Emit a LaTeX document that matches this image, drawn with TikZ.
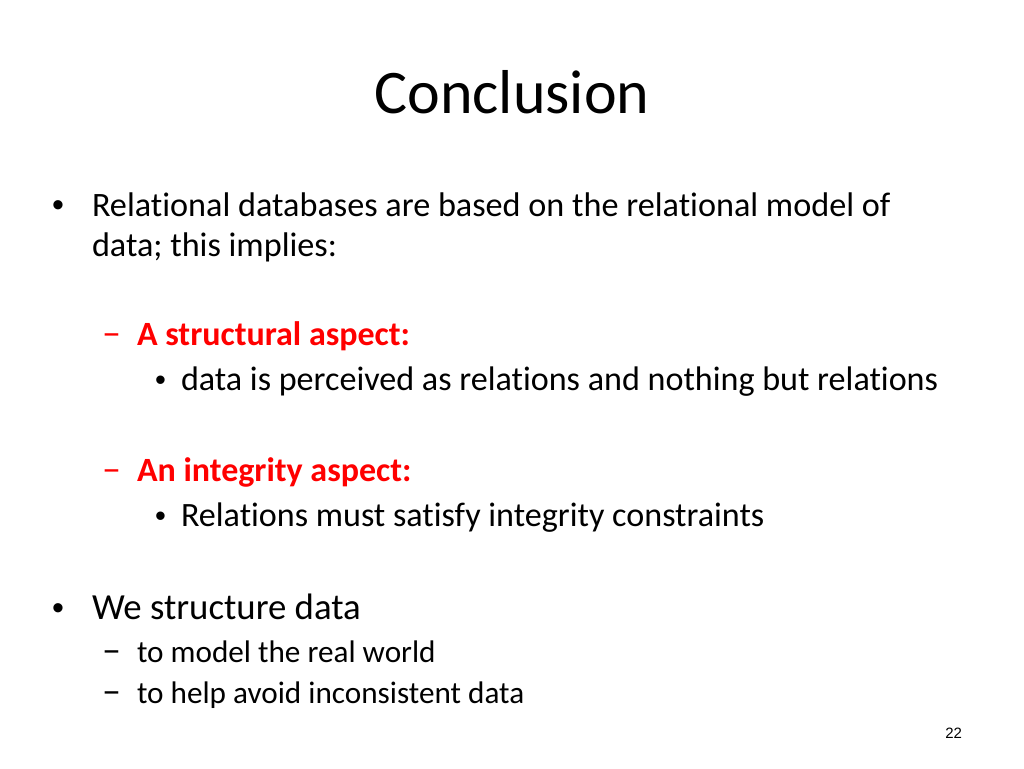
\documentclass[tikz,border=0pt]{standalone}
\usepackage{fontspec}
\setmainfont{Carlito}[Ligatures=NoCommon]
\newfontfamily\arialfont{Liberation Sans}
\usetikzlibrary{positioning}

\begin{document}
\begin{tikzpicture}[x=1pt, y=-1pt, inner sep=0pt, outer sep=0pt,
  title/.style = {anchor=base, font=\fontsize{62}{62}\selectfont},
  lvlone/.style = {anchor=base west, font=\fontsize{34.2}{40}\selectfont},
  lvlbig/.style = {anchor=base west, font=\fontsize{36.8}{44}\selectfont},
  lvlthree/.style = {anchor=base west, font=\fontsize{34.1}{40}\selectfont},
  lvlsub/.style = {anchor=base west, font=\fontsize{31.2}{38}\selectfont},
  head/.style = {anchor=base west, text=red, font=\fontsize{34}{40}\selectfont\bfseries},
  dot/.style = {anchor=base west, font=\arialfont\fontsize{34}{34}\selectfont},
  smalldot/.style = {anchor=base west, font=\arialfont\fontsize{31}{31}\selectfont},
  dashmark/.style = {anchor=base west, font=\fontsize{38}{38}\selectfont},
  pagenum/.style = {anchor=base east, font=\arialfont\fontsize{15}{15}\selectfont}]
\useasboundingbox (0,0) rectangle (1024,768);

% title
\node[title] (title) at (512,113) {Conclusion};

% first bullet
\node[dot] (b1) at (52,216) {•};
\node[lvlone] (rel) at (92,216) {Relational databases are based on the relational model of};
\node[lvlone] (rel2) at (92,256) {data; this implies:};

\node[dashmark, text=red] (d1) at (102,345) {–};
\node[head] (struct) at (137,345) {A structural aspect:};
\node[smalldot] (b2) at (155,390) {•};
\node[lvlthree] (perc) at (181,390) {data is perceived as relations and nothing but relations};

\node[dashmark, text=red] (d2) at (102,481) {–};
\node[head] (integ) at (137,481) {An integrity aspect:};
\node[smalldot] (b3) at (155,526) {•};
\node[lvlthree] (cons) at (181,526) {Relations must satisfy integrity constraints};

% second bullet
\node[dot] (b4) at (52,619) {•};
\node[lvlbig] (struc) at (92,619) {We structure data};
\node[dashmark] (d3) at (102,662) {–};
\node[lvlsub] (model) at (137,662) {to model the real world};
\node[dashmark] (d4) at (102,703) {–};
\node[lvlsub] (avoid) at (137,703) {to help avoid inconsistent data};

\node[pagenum] (num) at (962,738) {22};
\end{tikzpicture}
\end{document}
